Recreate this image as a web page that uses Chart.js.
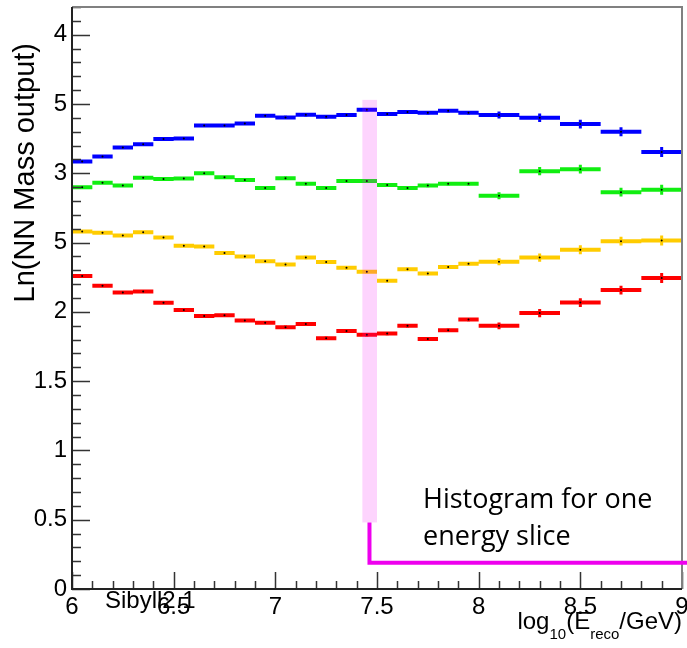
<!DOCTYPE html>
<html lang="en">
<head>
<meta charset="UTF-8">
<title>NN Mass output vs reconstructed energy</title>
<script src="https://cdn.jsdelivr.net/npm/chart.js"></script>
<style>
    body {
        margin: 0;
        background: #fff;
    }

    .chart-box {
        width: 687px;
        height: 648px;
    }
</style>
</head>
<body>
<div class="chart-box"><canvas id="massChart"></canvas></div>

<script>
    // bin edges in log10(E_reco/GeV): 0.1 wide up to 8, then 0.2 wide
    const binEdges = [6.0, 6.1, 6.2, 6.3, 6.4, 6.5, 6.6, 6.7, 6.8, 6.9, 7.0,
        7.1, 7.2, 7.3, 7.4, 7.5, 7.6, 7.7, 7.8, 7.9, 8.0,
        8.2, 8.4, 8.6, 8.8, 9.0];

    // y tick labels exactly as printed on the original axis
    const yTickLabels = ['0', '0.5', '1', '1.5', '2', '5', '3', '5', '4'];

    const blueVals = [3.085, 3.121, 3.186, 3.210, 3.247, 3.251, 3.345, 3.345, 3.360, 3.415,
        3.403, 3.422, 3.408, 3.420, 3.458, 3.427, 3.442, 3.437, 3.451, 3.437,
        3.420, 3.401, 3.355, 3.300, 3.153];
    const greenVals = [2.900, 2.931, 2.912, 2.968, 2.958, 2.962, 3.001, 2.972, 2.951, 2.893,
        2.965, 2.924, 2.893, 2.944, 2.944, 2.915, 2.893, 2.912, 2.924, 2.924,
        2.838, 3.015, 3.030, 2.864, 2.881];
    const yellowVals = [2.580, 2.570, 2.551, 2.575, 2.537, 2.477, 2.472, 2.424, 2.400, 2.366,
        2.342, 2.392, 2.359, 2.318, 2.289, 2.224, 2.308, 2.277, 2.323, 2.347,
        2.361, 2.392, 2.448, 2.510, 2.515];
    const redVals = [2.258, 2.188, 2.140, 2.147, 2.065, 2.014, 1.971, 1.976, 1.938, 1.921,
        1.889, 1.913, 1.810, 1.861, 1.834, 1.843, 1.899, 1.805, 1.868, 1.944,
        1.899, 1.991, 2.067, 2.157, 2.245];
    const binErrors = [0.008, 0.008, 0.008, 0.008, 0.008, 0.008, 0.008, 0.008, 0.008, 0.008,
        0.012, 0.012, 0.012, 0.012, 0.012, 0.012, 0.012, 0.012, 0.012, 0.012,
        0.025, 0.030, 0.032, 0.032, 0.036];

    const series = [
        { name: 'blue', vals: blueVals, color: '#0000ff' },
        { name: 'green', vals: greenVals, color: '#11ee11' },
        { name: 'yellow', vals: yellowVals, color: '#ffcc00' },
        { name: 'red', vals: redVals, color: '#ff0000' }
    ];

    // one flat segment per bin, broken by null points
    function stepPoints(vals) {
        const pts = [];
        vals.forEach((v, i) => {
            pts.push({ x: binEdges[i], y: v });
            pts.push({ x: binEdges[i + 1], y: v });
            pts.push({ x: binEdges[i + 1], y: null });
        });
        return pts;
    }

    function errorPoints(vals) {
        const pts = [];
        vals.forEach((v, i) => {
            const c = (binEdges[i] + binEdges[i + 1]) / 2;
            pts.push({ x: c, y: v - binErrors[i] });
            pts.push({ x: c, y: v + binErrors[i] });
            pts.push({ x: c, y: null });
        });
        return pts;
    }

    function centerPoints(vals) {
        return vals.map((v, i) => ({ x: (binEdges[i] + binEdges[i + 1]) / 2, y: v }));
    }

    const datasets = [];
    series.forEach(s => {
        datasets.push({
            type: 'scatter',
            label: s.name + ' centres',
            data: centerPoints(s.vals),
            pointRadius: 1,
            pointBackgroundColor: '#000',
            pointBorderWidth: 0,
            showLine: false
        });
        datasets.push({
            label: s.name + ' errors',
            data: errorPoints(s.vals),
            borderColor: s.color,
            borderWidth: 3,
            pointRadius: 0,
            spanGaps: false
        });
        datasets.push({
            label: s.name,
            data: stepPoints(s.vals),
            borderColor: s.color,
            borderWidth: 4,
            pointRadius: 0,
            spanGaps: false
        });
    });

    // the highlighted slice and its callout
    const slice = { x0: 7.428, x1: 7.5, y0: 0.48, y1: 3.53, lineX: 7.463, lineY: 0.19 };

    const decorations = {
        id: 'decorations',
        afterDatasetsDraw(chart) {
            const { ctx, scales: { x, y } } = chart;
            ctx.save();
            ctx.fillStyle = 'rgba(245, 0, 245, 0.17)';
            const bx = x.getPixelForValue(slice.x0);
            const by = y.getPixelForValue(slice.y1);
            ctx.fillRect(bx, by, x.getPixelForValue(slice.x1) - bx, y.getPixelForValue(slice.y0) - by);
            ctx.restore();
        },
        afterDraw(chart) {
            const { ctx, chartArea: a, scales: { x, y } } = chart;
            ctx.save();

            // inside ticks, major every 0.5, minor every 0.1
            ctx.strokeStyle = '#333';
            ctx.lineWidth = 1.5;
            ctx.beginPath();
            for (let i = 0; i <= 42; i++) {
                const py = Math.round(y.getPixelForValue(i / 10)) + 0.5;
                const len = i % 5 === 0 ? 18 : 9;
                ctx.moveTo(a.left, py);
                ctx.lineTo(a.left + len, py);
            }
            for (let i = 60; i <= 90; i++) {
                const px = Math.round(x.getPixelForValue(i / 10)) + 0.5;
                const len = i % 5 === 0 ? 17 : 8;
                ctx.moveTo(px, a.bottom);
                ctx.lineTo(px, a.bottom - len);
            }
            ctx.stroke();

            // frame: dark left/bottom, grey top/right
            ctx.lineWidth = 2;
            ctx.strokeStyle = '#808080';
            ctx.beginPath();
            ctx.moveTo(a.left, a.top);
            ctx.lineTo(a.right, a.top);
            ctx.lineTo(a.right, a.bottom);
            ctx.stroke();
            ctx.strokeStyle = '#222';
            ctx.beginPath();
            ctx.moveTo(a.left, a.top);
            ctx.lineTo(a.left, a.bottom);
            ctx.lineTo(a.right, a.bottom);
            ctx.stroke();

            // magenta callout line
            ctx.strokeStyle = '#ee00ee';
            ctx.lineWidth = 4;
            ctx.beginPath();
            const lx = x.getPixelForValue(slice.lineX);
            const ly = y.getPixelForValue(slice.lineY);
            ctx.moveTo(lx, y.getPixelForValue(slice.y0));
            ctx.lineTo(lx, ly);
            ctx.lineTo(chart.width, ly);
            ctx.stroke();

            // texts
            ctx.fillStyle = '#000';
            ctx.textBaseline = 'alphabetic';
            ctx.textAlign = 'left';
            ctx.font = '27px "Open Sans"';
            ctx.fillText('Histogram for one', 423, 508);
            ctx.fillText('energy slice', 423, 545);

            ctx.font = '24px "Liberation Sans"';
            ctx.fillText('Sibyll2.1', 105, 608);

            // y title, rotated and aligned to the top
            ctx.save();
            ctx.translate(34, 43);
            ctx.rotate(-Math.PI / 2);
            ctx.textAlign = 'right';
            ctx.font = '29px "Liberation Sans"';
            ctx.fillText('Ln(NN Mass output)', 0, 0);
            ctx.restore();

            // x title with subscripts, right aligned
            const parts = [
                ['log', 24, 0], ['10', 15, 10], ['(E', 24, 0], ['reco', 15, 10], ['/GeV)', 24, 0]
            ];
            let total = 0;
            parts.forEach(p => {
                ctx.font = p[1] + 'px "Liberation Sans"';
                total += ctx.measureText(p[0]).width;
            });
            let tx = 682 - total;
            parts.forEach(p => {
                ctx.font = p[1] + 'px "Liberation Sans"';
                ctx.fillText(p[0], tx, 629 + p[2]);
                tx += ctx.measureText(p[0]).width;
            });

            ctx.restore();
        }
    };

    const ctx = document.getElementById('massChart').getContext('2d');
    const chart = new Chart(ctx, {
        type: 'line',
        data: { datasets: datasets },
        options: {
            responsive: true,
            maintainAspectRatio: false,
            animation: false,
            layout: { padding: { top: 7, right: 5, left: 0, bottom: 0 } },
            elements: { line: { tension: 0 } },
            plugins: {
                legend: { display: false },
                tooltip: { enabled: false }
            },
            scales: {
                x: {
                    type: 'linear',
                    min: 6,
                    max: 9,
                    grid: { display: false, drawTicks: false },
                    border: { display: false },
                    ticks: {
                        stepSize: 0.5,
                        autoSkip: false,
                        maxRotation: 0,
                        padding: 4,
                        color: '#000',
                        font: { family: 'Liberation Sans', size: 24 },
                        callback: v => String(Number(v.toFixed(1)))
                    },
                    afterFit: scale => {
                        scale.height = 59;
                        scale.paddingLeft = 0;
                        scale.paddingRight = 0;
                    }
                },
                y: {
                    min: 0,
                    max: 4.2,
                    grid: { display: false, drawTicks: false },
                    border: { display: false },
                    ticks: {
                        stepSize: 0.5,
                        includeBounds: false,
                        padding: 5,
                        color: '#000',
                        font: { family: 'Liberation Sans', size: 24 },
                        callback: v => yTickLabels[Math.round(v / 0.5)]
                    },
                    afterFit: scale => {
                        scale.width = 72;
                        scale.paddingTop = 0;
                        scale.paddingBottom = 0;
                    }
                }
            }
        },
        plugins: [decorations]
    });
</script>
</body>
</html>
